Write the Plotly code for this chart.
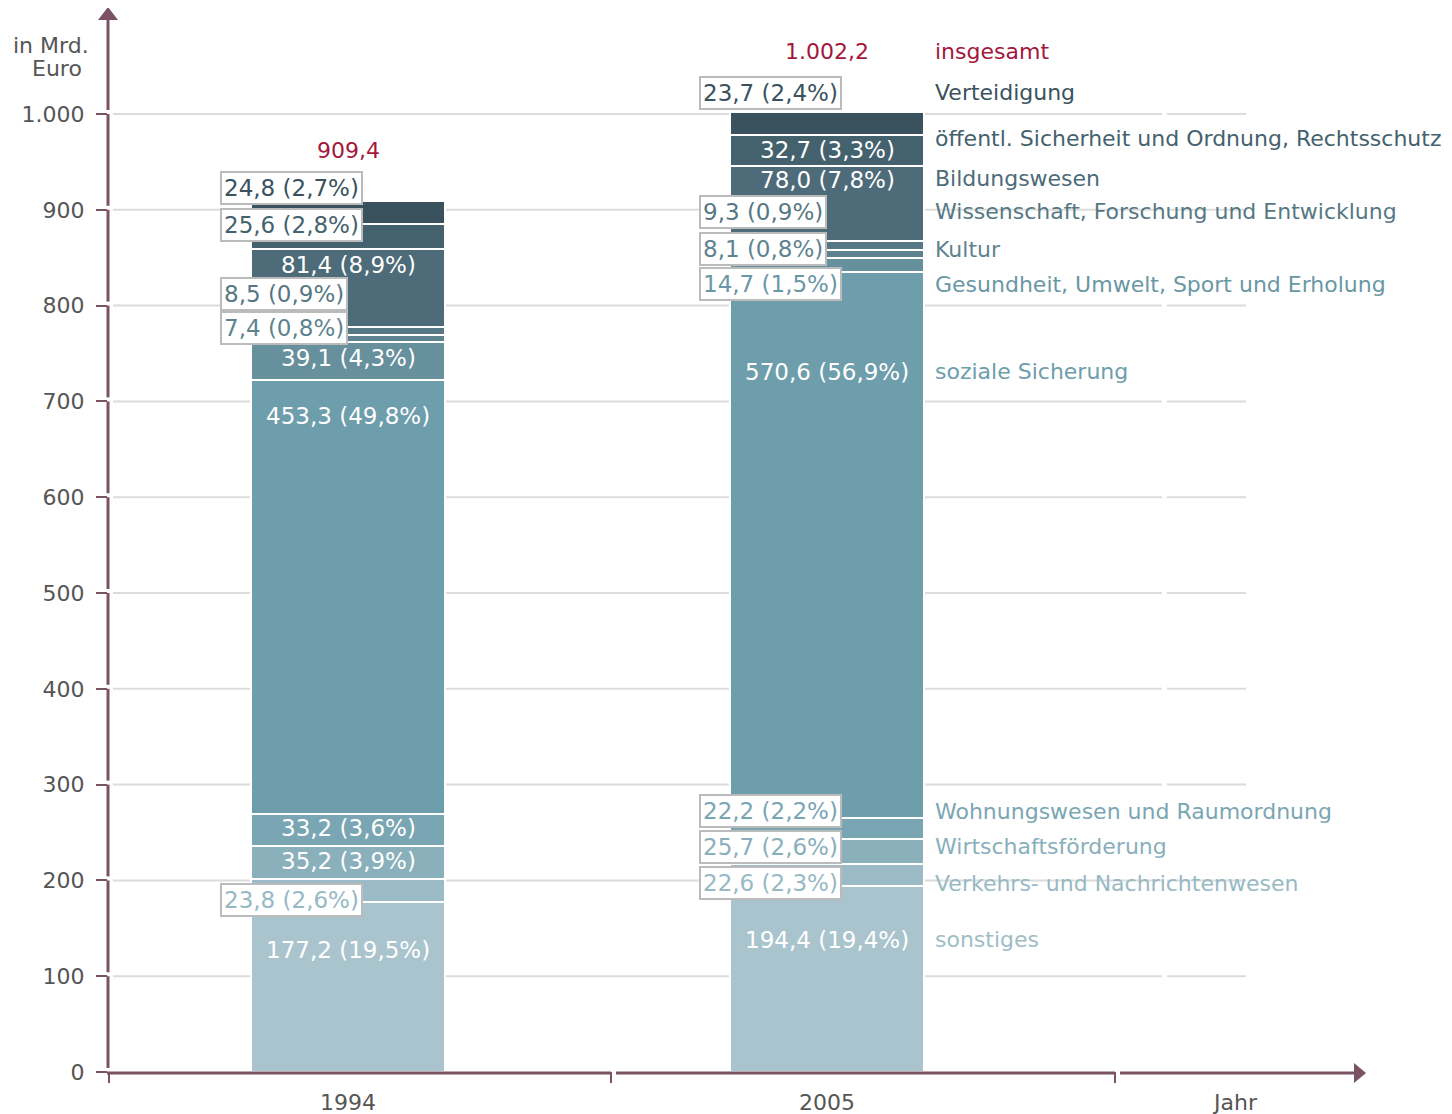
import plotly.graph_objects as go

# ---------------- data ----------------
years = ["1994", "2005"]
categories = [
    "sonstiges",
    "Verkehrs- und Nachrichtenwesen",
    "Wirtschaftsförderung",
    "Wohnungswesen und Raumordnung",
    "soziale Sicherung",
    "Gesundheit, Umwelt, Sport und Erholung",
    "Kultur",
    "Wissenschaft, Forschung und Entwicklung",
    "Bildungswesen",
    "öffentl. Sicherheit und Ordnung, Rechtsschutz",
    "Verteidigung",
]
values_1994 = [177.2, 23.8, 35.2, 33.2, 453.3, 39.1, 7.4, 8.5, 81.4, 25.6, 24.8]
pct_1994 = [19.5, 2.6, 3.9, 3.6, 49.8, 4.3, 0.8, 0.9, 8.9, 2.8, 2.7]
values_2005 = [194.4, 22.6, 25.7, 22.2, 570.6, 14.7, 8.1, 9.3, 78.0, 32.7, 23.7]
pct_2005 = [19.4, 2.3, 2.6, 2.2, 56.9, 1.5, 0.8, 0.9, 7.8, 3.3, 2.4]
totals = [909.4, 1002.2]
y_ticks = [0, 100, 200, 300, 400, 500, 600, 700, 800, 900, 1000]
y_ticktext = ["0", "100", "200", "300", "400", "500", "600", "700", "800", "900", "1.000"]

# ---------------- layout / style (not data) ----------------
colors = ["#aac4cd", "#9bbcc6", "#8ab0bc", "#7aa6b3", "#6e9dab", "#66909c",
          "#5e838f", "#567884", "#4d6b78", "#44626e", "#3a525d"]
label_colors = ["#9fbcc6", "#97b9c4", "#88afbb", "#7aa6b3", "#6e9dab", "#6a97a4",
                "#5e838f", "#567884", "#4d6b78", "#44626e", "#3a525d"]
boxed_1994 = [False, True, False, False, False, False, True, True, False, True, True]
boxed_2005 = [False, True, True, True, False, True, True, True, False, False, True]
# label vertical placement (value-axis units)
label_y_1994 = [127, 179.5, 220, 255, 685, 745, 777, 812, 842, 884, 923]
label_y_2005 = [138, 197, 235, 272, 731, 822.5, 859, 898, 931, 962, 1022]
right_label_y = [138, 197, 235, 272, 731, 822.5, 859, 898, 933, 974, 1022]
total_label_y = [962, 1065]

W, H = 1452, 1114      # window
OFF = 8                # page body margin
L, R, T, B = 108, 1365, 8, 1072
UNIT = 479.0          # px between the two bars
C0 = 348.0            # px of first bar centre
PXV = 0.958           # px per value unit
AX = "#7a5264"
GRID = "#dcdcdc"
TXT = "#555555"
FONT = "DejaVu Sans"
RED = "#a3173c"
FS = 22
FSN = 23


def PX(px):
    return (px - L) / (R - L)


def PY(py):
    return (B - py) / (B - T)


def pyv(v):
    return B - v * PXV


def de(v):
    return f"{v:.1f}".replace(".", ",")


xpos = [0, 1]
fig = go.Figure()
for i, cat in enumerate(categories):
    fig.add_trace(go.Bar(
        x=xpos, y=[values_1994[i], values_2005[i]], name=cat,
        marker=dict(color=colors[i], line=dict(color="white", width=2)),
        width=194 / UNIT, hoverinfo="skip", showlegend=False,
    ))

shapes = []
# gridlines
for v in y_ticks[1:]:
    for a, b in [(113, 1162), (1167, 1246)]:
        shapes.append(dict(type="line", xref="paper", yref="y", x0=PX(a), x1=PX(b),
                           y0=v, y1=v, line=dict(color=GRID, width=2), layer="below"))
# y axis broken segments
for v in y_ticks[1:]:
    shapes.append(dict(type="line", xref="paper", yref="paper", x0=0, x1=0,
                       y0=PY(pyv(v)), y1=PY(pyv(v - 100) - 4), line=dict(color=AX, width=3)))
shapes.append(dict(type="line", xref="paper", yref="paper", x0=0, x1=0,
                   y0=PY(20), y1=PY(pyv(1000) - 4), line=dict(color=AX, width=3)))
# y arrow
shapes.append(dict(type="path", xref="paper", yref="paper",
                   path=f"M {PX(98)} {PY(20)} L {PX(108)} {PY(7)} L {PX(118)} {PY(20)} Z",
                   fillcolor=AX, line=dict(color=AX, width=0)))
# x axis segments + ticks
for a, b in [(107, 611), (616, 1115), (1120, 1357)]:
    shapes.append(dict(type="line", xref="paper", yref="paper", x0=PX(a), x1=PX(b),
                       y0=PY(1073), y1=PY(1073), line=dict(color=AX, width=3)))
for t in [109, 611, 1115]:
    shapes.append(dict(type="line", xref="paper", yref="paper", x0=PX(t), x1=PX(t),
                       y0=PY(1072), y1=PY(1083), line=dict(color=AX, width=2)))
shapes.append(dict(type="path", xref="paper", yref="paper",
                   path=f"M {PX(1354)} {PY(1063)} L {PX(1366)} {PY(1073)} L {PX(1354)} {PY(1083)} Z",
                   fillcolor=AX, line=dict(color=AX, width=0)))

ann = []


def add_label(xi, y, text, boxed, color):
    if boxed:
        ann.append(dict(x=xi, y=y, xref="x", yref="y", text=text, showarrow=False,
                        xanchor="left", yanchor="middle", xshift=-128,
                        font=dict(family=FONT, size=FSN, color=color),
                        bgcolor="white", bordercolor="#bbbbbb", borderwidth=2, borderpad=2))
    else:
        ann.append(dict(x=xi, y=y, xref="x", yref="y", text=text, showarrow=False,
                        xanchor="center", yanchor="middle",
                        font=dict(family=FONT, size=FSN, color="white")))


for i in range(len(categories)):
    add_label(0, label_y_1994[i], f"{de(values_1994[i])} ({de(pct_1994[i])}%)", boxed_1994[i], label_colors[i])
    add_label(1, label_y_2005[i], f"{de(values_2005[i])} ({de(pct_2005[i])}%)", boxed_2005[i], label_colors[i])
    ann.append(dict(x=1, y=right_label_y[i], xref="x", yref="y", text=categories[i], showarrow=False,
                    xanchor="left", yanchor="middle", xshift=106,
                    font=dict(family=FONT, size=FS, color=label_colors[i])))

tot_txt = ["909,4", "1.002,2"]
for i in range(2):
    ann.append(dict(x=xpos[i], y=total_label_y[i], xref="x", yref="y", text=tot_txt[i],
                    showarrow=False, xanchor="center", yanchor="middle",
                    font=dict(family=FONT, size=FS, color=RED)))
ann.append(dict(x=1, y=total_label_y[1], xref="x", yref="y", text="insgesamt", showarrow=False,
                xanchor="left", yanchor="middle", xshift=106,
                font=dict(family=FONT, size=FS, color=RED)))

# axis titles / category labels
ann.append(dict(x=PX(91), y=PY(46), xref="paper", yref="paper", text="in Mrd.", showarrow=False,
                xanchor="right", yanchor="middle", font=dict(family=FONT, size=FS, color=TXT)))
ann.append(dict(x=PX(84), y=PY(69), xref="paper", yref="paper", text="Euro", showarrow=False,
                xanchor="right", yanchor="middle", font=dict(family=FONT, size=FS, color=TXT)))
for i, yr in enumerate(years):
    ann.append(dict(x=xpos[i], y=PY(1102), xref="x", yref="paper", text=yr, showarrow=False,
                    xanchor="center", yanchor="middle", font=dict(family=FONT, size=FS, color=TXT)))
ann.append(dict(x=(1235 - C0) / UNIT, y=PY(1102), xref="x", yref="paper", text="Jahr", showarrow=False,
                xanchor="center", yanchor="middle", font=dict(family=FONT, size=FS, color=TXT)))

fig.update_layout(
    width=W - OFF, height=H - OFF,
    margin=dict(l=L - OFF, r=W - R, t=T - OFF, b=H - B, pad=0),
    plot_bgcolor="white", paper_bgcolor="white",
    barmode="stack", bargap=0,
    xaxis=dict(range=[(L - C0) / UNIT, (R - C0) / UNIT], showgrid=False, zeroline=False,
               showline=False, showticklabels=False, ticks=""),
    yaxis=dict(range=[0, (B - T) / PXV], tickvals=y_ticks, ticktext=y_ticktext,
               showgrid=False, zeroline=False, showline=False,
               ticks="outside", ticklen=11, tickwidth=2, tickcolor=AX,
               ticklabelstandoff=7,
               tickfont=dict(family=FONT, size=FS, color=TXT)),
    shapes=shapes, annotations=ann,
    font=dict(family=FONT),
)

fig.write_html("out.html")
